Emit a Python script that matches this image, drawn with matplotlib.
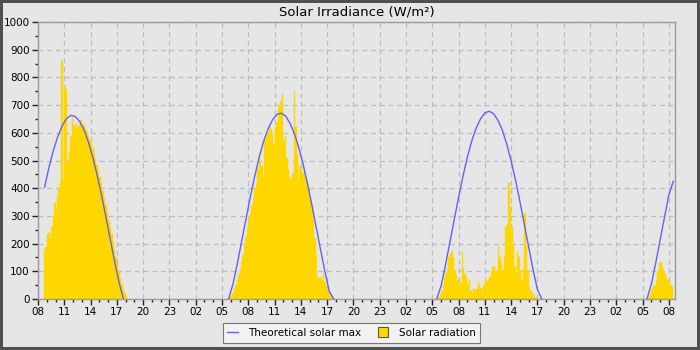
import numpy as np
import matplotlib
matplotlib.use("Agg")
import matplotlib.pyplot as plt
from matplotlib.lines import Line2D
from matplotlib.ticker import MultipleLocator

# hours counted from 08:00 on day 1; bars are 10-minute samples
bar_step = 1 / 6
day1_start = 0.67
day1_rad = [177, 189, 235, 240, 222, 260, 300, 345, 320, 370, 400, 420, 860, 430,
            766, 755, 490, 530, 590, 655, 630, 625, 635, 620, 630, 645, 625, 630,
            615, 605, 590, 575, 560, 545, 525, 505, 485, 465, 440, 415, 390, 365,
            340, 315, 285, 260, 235, 205, 180, 150, 125, 100, 75, 55, 35, 20, 10]
day2_start = 21.67
day2_rad = [5, 8, 12, 20, 35, 50, 70, 90, 110, 135, 160, 190, 225, 255, 290, 310,
            340, 365, 400, 420, 470, 530, 500, 480, 440, 570, 585, 600, 625, 615,
            595, 560, 620, 640, 690, 700, 715, 740, 570, 590, 510, 470, 440, 430,
            455, 750, 620, 520, 430, 480, 470, 455, 460, 440, 420, 400, 370, 340,
            290, 220, 150, 80, 75, 78, 70, 90, 60, 45, 30, 20, 12, 6]
day3_start = 45.5
day3_rad = [3, 8, 15, 30, 50, 75, 95, 110, 150, 165, 175, 150, 105, 85, 70, 55,
            60, 170, 110, 90, 80, 55, 70, 30, 20, 35, 30, 35, 60, 50, 40, 25,
            50, 75, 65, 70, 80, 100, 115, 120, 100, 105, 190, 150, 130, 105, 155,
            260, 270, 420, 335, 260, 190, 120, 95, 175, 150, 105, 70, 110, 310,
            190, 105, 45, 30, 20, 15, 8, 5]
day4_start = 69.5
day4_rad = [3, 8, 18, 35, 50, 48, 70, 100, 130, 135, 115, 105, 95, 80, 70, 60, 50, 45]

# theoretical clear-sky maximum, 30-minute samples
th_step = 0.5
th1_start = 0.75
th1 = [404, 475, 536, 586, 625, 651, 663, 659, 641, 611, 567, 512, 447, 375, 296,
       215, 135, 60, 0]
th2_start = 21.75
th2 = [0, 54, 128, 210, 291, 371, 446, 513, 569, 614, 646, 666, 671, 661, 635, 598,
       548, 487, 417, 340, 259, 178, 98, 27, 0]
th3_start = 45.5
th3 = [0, 47, 122, 204, 286, 367, 443, 512, 570, 617, 650, 672, 678, 669, 645, 609,
       559, 498, 429, 352, 270, 188, 106, 34, 0]
th4_start = 69.5
th4 = [0, 54, 130, 213, 295, 376, 425]

x_labels = ["08", "11", "14", "17", "20", "23", "02", "05"] * 3 + ["08"]

bg = "#e6e6e6"
gold = "#ffd700"
blue = "#6363f0"

fig = plt.figure(figsize=(7, 3.5), dpi=100, facecolor=bg, edgecolor="#505050", linewidth=3)
ax = fig.add_axes([0.0543, 0.1457, 0.9557 - 0.0543 + 0.0086, 0.937 - 0.1457])
ax.set_facecolor(bg)

for start, vals in [(day1_start, day1_rad), (day2_start, day2_rad),
                    (day3_start, day3_rad), (day4_start, day4_rad)]:
    xs = start + np.arange(len(vals)) * bar_step
    ax.bar(xs, vals, width=bar_step, align="edge", color=gold, edgecolor=gold,
           linewidth=0.3, zorder=2)

for start, vals in [(th1_start, th1), (th2_start, th2), (th3_start, th3), (th4_start, th4)]:
    xs = start + np.arange(len(vals)) * th_step
    ax.plot(xs, vals, color=blue, linewidth=1.0, zorder=3)

ax.set_xlim(0, 72.7)
ax.set_ylim(0, 1000)
ax.set_xticks(np.arange(len(x_labels)) * 3)
ax.set_xticklabels(x_labels)
ax.xaxis.set_minor_locator(MultipleLocator(1))
ax.yaxis.set_major_locator(MultipleLocator(100))
ax.yaxis.set_minor_locator(MultipleLocator(50))
ax.tick_params(which="major", length=4, width=1, labelsize=7.5, pad=2, color="#222222")
ax.tick_params(which="minor", length=2.5, width=1, color="#222222")
ax.grid(True, which="major", linestyle=(0, (4, 3)), color="#bdbdbd", linewidth=0.9, zorder=0)
ax.set_axisbelow(True)
for s in ax.spines.values():
    s.set_color("#9a9a9a")
    s.set_linewidth(1)

ax.set_title("Solar Irradiance (W/m²)", fontsize=9.5, pad=5)

handles = [Line2D([], [], color=blue, linewidth=1.0),
           Line2D([], [], marker="s", linestyle="none", markersize=7,
                  markerfacecolor=gold, markeredgecolor="#555555", markeredgewidth=0.8)]
leg = fig.legend(handles, ["Theoretical solar max", "Solar radiation"], loc="lower center",
                 bbox_to_anchor=(0.502, 0.006), ncol=2, fontsize=7.5, frameon=True,
                 fancybox=False, framealpha=1, handlelength=1.0, columnspacing=1.6,
                 borderpad=0.45, handletextpad=1.0)
leg.get_frame().set_facecolor("#f2f2f2")
leg.get_frame().set_edgecolor("#777777")
leg.get_frame().set_linewidth(0.8)

fig.savefig("out.png", dpi=100)
